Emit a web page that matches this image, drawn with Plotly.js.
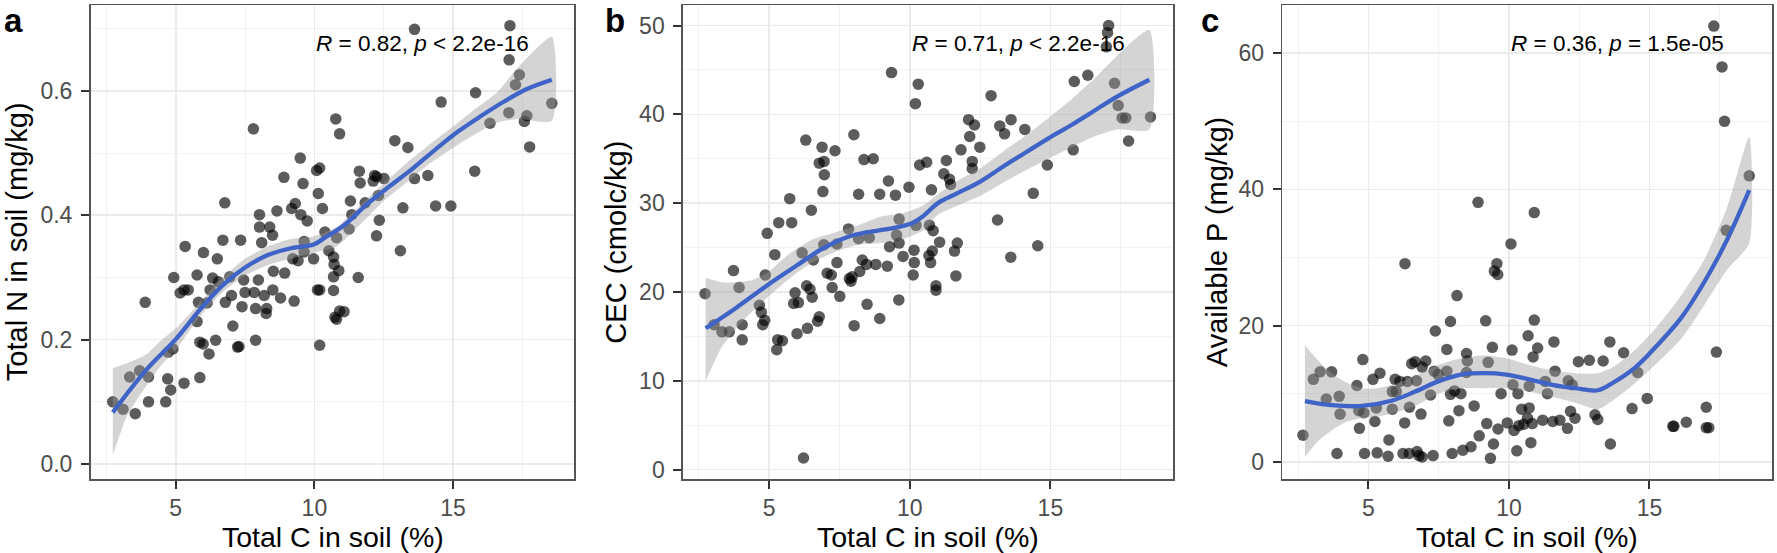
<!DOCTYPE html>
<html>
<head>
<meta charset="utf-8">
<script src="https://cdn.plot.ly/plotly-3.0.1.min.js"></script>
<style>
html,body{margin:0;padding:0;background:#fff;}
#chart{width:1777px;height:553px;}
</style>
</head>
<body>
<div id="chart"></div>
<script>
// ---------- Panel a: Total N vs Total C ----------
const carbonA = [2.73,3.10,3.34,3.54,3.70,3.90,4.02,4.02,4.64,4.71,4.73,4.82,4.90,4.93,5.30,5.34,5.16,5.30,5.45,5.77,5.82,5.77,5.87,5.87,5.99,6.00,6.20,6.13,6.33,6.24,6.44,6.50,6.54,6.70,6.77,6.79,6.95,7.01,7.06,7.23,7.28,7.34,7.39,7.45,7.50,7.80,7.83,7.88,7.88,7.98,8.02,8.02,8.10,8.19,8.28,8.26,8.39,8.49,8.52,8.50,8.65,8.78,8.90,8.93,9.18,9.27,9.31,9.22,9.49,9.51,9.41,9.59,9.63,9.63,9.74,9.97,10.08,10.19,10.14,10.29,10.11,10.19,10.19,10.38,10.52,10.69,10.71,10.80,10.69,10.88,10.69,10.77,10.91,10.74,10.80,10.91,11.07,11.25,11.30,11.35,11.58,11.62,11.65,11.83,12.12,12.17,12.24,12.31,12.24,12.34,12.51,12.90,13.10,13.19,13.37,13.61,13.61,14.09,14.37,14.57,14.92,15.81,15.78,16.33,17.01,17.05,17.02,17.25,17.39,17.57,17.66,17.76,18.56];
const nitrogen = [0.100,0.088,0.140,0.081,0.150,0.260,0.140,0.100,0.100,0.137,0.180,0.119,0.185,0.300,0.130,0.350,0.275,0.280,0.280,0.304,0.260,0.229,0.196,0.139,0.193,0.340,0.177,0.259,0.299,0.280,0.199,0.330,0.293,0.360,0.420,0.260,0.301,0.271,0.222,0.188,0.189,0.360,0.253,0.296,0.276,0.539,0.276,0.250,0.199,0.296,0.401,0.381,0.356,0.271,0.250,0.242,0.381,0.368,0.310,0.280,0.407,0.267,0.461,0.307,0.411,0.262,0.419,0.330,0.492,0.401,0.327,0.451,0.358,0.341,0.391,0.330,0.472,0.476,0.435,0.411,0.280,0.280,0.191,0.373,0.343,0.333,0.321,0.364,0.301,0.311,0.279,0.555,0.531,0.236,0.233,0.246,0.245,0.378,0.423,0.401,0.300,0.471,0.452,0.420,0.455,0.464,0.462,0.432,0.367,0.392,0.459,0.520,0.343,0.412,0.509,0.699,0.459,0.464,0.415,0.582,0.415,0.597,0.471,0.548,0.565,0.705,0.650,0.610,0.626,0.551,0.560,0.510,0.580];
const smoothAx = [2.73,3.93,5.03,5.85,6.68,7.50,8.32,9.15,9.97,10.38,11.07,11.90,12.72,13.54,14.37,15.19,16.02,16.84,17.66,18.56];
const smoothAy = [0.083,0.151,0.202,0.247,0.287,0.316,0.336,0.347,0.353,0.364,0.384,0.418,0.447,0.475,0.506,0.535,0.560,0.583,0.603,0.618];
const bandAx = [2.73,3.24,3.93,4.48,5.03,5.85,6.68,7.50,8.32,9.15,9.97,10.80,11.62,12.45,13.27,14.09,14.92,15.74,16.57,17.39,18.56];
const bandAhi = [0.154,0.162,0.176,0.199,0.219,0.259,0.299,0.330,0.350,0.362,0.366,0.381,0.415,0.449,0.482,0.512,0.540,0.569,0.597,0.640,0.687];
const bandAlo = [0.014,0.077,0.125,0.159,0.185,0.236,0.276,0.303,0.320,0.330,0.340,0.350,0.384,0.421,0.451,0.481,0.506,0.529,0.549,0.555,0.552];

// ---------- Panel b: CEC vs Total C ----------
const carbonB = [2.72,3.04,3.32,3.58,3.73,3.93,4.04,4.04,4.65,4.72,4.77,4.84,4.86,4.93,5.20,5.30,5.27,5.47,5.34,5.73,5.80,5.87,5.92,5.99,6.04,6.17,6.22,6.30,6.33,6.36,6.45,6.50,6.53,6.57,6.72,6.78,6.78,6.88,6.95,6.91,6.96,6.94,7.06,7.21,7.24,7.34,7.41,7.41,7.51,7.82,7.85,7.91,7.95,8.01,8.02,8.18,8.18,8.22,8.31,8.37,8.48,8.46,8.56,8.70,8.79,8.93,8.93,9.20,9.24,9.28,9.35,9.49,9.53,9.61,9.62,9.62,9.76,9.97,10.12,10.15,10.16,10.20,10.22,10.30,10.35,10.60,10.68,10.70,10.74,10.77,10.80,10.83,10.93,10.93,11.06,11.21,11.30,11.41,11.45,11.59,11.64,11.69,11.82,12.09,12.13,12.22,12.22,12.30,12.49,12.89,13.12,13.20,13.37,13.60,13.59,14.09,14.39,14.55,14.89,15.81,15.85,16.33,16.99,17.03,17.07,17.28,17.41,17.55,17.68,17.78,18.56];
const cec = [19.8,16.3,15.5,15.5,22.4,20.5,16.3,14.6,18.5,17.7,16.3,16.8,21.9,26.6,24.2,14.6,13.5,14.5,27.8,30.5,27.8,18.7,19.9,15.3,18.8,24.4,1.3,37.1,20.7,15.9,20.3,29.2,19.4,23.6,16.7,17.2,34.5,36.3,34.7,31.3,33.2,25.3,22.1,21.9,20.5,35.9,25.4,23.3,19.5,27.1,21.5,21.2,21.7,37.7,16.2,31.0,26.0,22.3,23.6,34.9,18.6,23.1,26.1,35.0,23.1,31.0,17.0,22.9,32.5,25.1,44.7,30.9,26.4,19.1,28.2,25.5,24.0,31.8,21.9,24.7,23.3,41.2,27.5,43.4,34.3,34.6,24.1,27.5,23.3,31.5,24.6,26.9,20.7,20.2,25.6,33.3,34.8,32.7,32.1,24.6,21.8,25.5,36.0,39.4,37.5,33.9,34.7,38.8,36.3,42.1,28.1,38.7,37.8,39.4,23.9,38.3,31.1,25.2,34.3,36.0,43.7,44.4,47.6,49.2,50.0,43.5,41.0,39.6,39.6,37.0,39.7];
const smoothBx = [2.74,3.82,4.91,5.99,6.80,7.34,7.89,8.43,9.24,10.05,10.46,11.00,11.68,12.49,13.31,14.12,14.93,15.75,16.56,17.37,18.52];
const smoothBy = [15.9,18.2,20.7,23.0,24.7,25.6,26.3,26.7,27.1,27.7,28.5,30.0,31.1,32.4,34.1,35.7,37.3,38.8,40.4,42.0,43.9];
const bandBx = [2.74,3.30,3.82,4.37,4.91,5.72,6.53,7.34,8.16,8.97,9.78,10.46,11.00,11.68,12.49,13.31,14.12,14.93,15.75,16.56,17.37,18.52];
const bandBhi = [21.6,21.1,21.1,21.3,22.1,24.3,25.9,26.7,27.5,28.5,28.9,29.7,31.0,32.5,33.9,35.8,37.6,39.6,41.7,44.0,46.6,49.5];
const bandBlo = [10.0,13.7,15.9,17.7,19.3,21.5,23.3,24.5,25.3,25.5,26.0,26.9,28.7,29.7,30.8,32.3,33.7,35.0,36.3,37.5,38.3,38.3];

// ---------- Panel c: Available P vs Total C ----------
const carbonC = [2.67,3.04,3.28,3.50,3.69,3.88,3.96,3.99,4.59,4.66,4.68,4.80,4.84,4.86,5.16,5.23,5.28,5.31,5.41,5.70,5.73,5.85,5.85,5.95,5.99,6.12,6.23,6.29,6.30,6.39,6.45,6.46,6.54,6.66,6.71,6.73,6.80,6.87,6.91,6.91,7.04,7.21,7.30,7.34,7.38,7.48,7.79,7.79,7.86,7.92,7.92,7.98,8.06,8.15,8.22,8.29,8.36,8.49,8.52,8.49,8.65,8.76,8.90,8.94,9.17,9.21,9.26,9.34,9.41,9.45,9.48,9.57,9.60,9.61,9.72,9.94,10.07,10.11,10.14,10.18,10.28,10.32,10.35,10.45,10.52,10.66,10.68,10.72,10.72,10.78,10.83,10.86,10.90,10.90,11.02,11.20,11.29,11.37,11.56,11.60,11.64,11.81,12.08,12.11,12.19,12.25,12.35,12.47,12.86,13.06,13.16,13.35,13.59,13.61,14.08,14.38,14.58,14.92,15.83,15.87,16.31,17.02,17.02,17.11,17.29,17.38,17.58,17.67,17.73,18.55];
const phosphorus = [3.9,12.1,13.2,9.2,13.2,1.2,9.6,7.0,11.2,7.5,4.9,15.0,7.2,1.2,12.1,5.9,7.9,1.3,13.0,0.8,3.2,10.3,7.7,12.1,10.3,11.8,1.2,5.7,29.1,11.8,1.2,8.0,14.4,14.7,11.9,1.5,0.9,7.0,13.9,0.7,14.8,9.8,0.9,13.3,19.2,12.8,16.5,13.3,6.0,20.6,9.9,1.2,10.4,24.4,7.5,10.0,1.7,15.9,14.8,13.1,2.2,8.2,38.1,3.8,20.7,5.6,14.6,0.5,16.8,2.6,28.0,29.1,27.5,4.8,10.0,5.7,32.0,16.4,11.3,4.6,1.6,10.0,5.3,7.7,5.5,6.4,18.5,11.1,7.9,2.8,5.6,15.4,20.8,36.6,16.7,6.1,11.8,10.0,5.9,17.6,13.3,6.1,4.9,11.9,7.4,11.3,6.4,14.7,14.9,6.9,6.2,14.8,17.6,2.6,16.0,7.8,13.1,9.3,5.2,5.2,5.8,8.0,5.0,5.0,64.0,16.1,58.0,50.0,34.0,42.0];
const smoothCx = [2.74,3.69,4.77,5.85,6.66,7.48,8.29,9.10,9.91,10.72,11.54,12.35,13.16,13.70,14.51,15.32,16.14,16.95,17.76,18.55];
const smoothCy = [8.9,8.3,8.2,9.0,10.3,11.8,12.8,13.0,12.8,12.1,11.3,10.8,10.5,11.6,13.9,17.3,21.2,26.4,32.6,39.9];
const bandCx = [2.74,3.20,3.69,4.23,4.77,5.31,5.85,6.66,7.48,8.29,9.10,9.91,10.72,11.54,12.35,13.16,13.70,14.51,15.32,16.14,16.95,17.76,18.55];
const bandChi = [17.1,14.9,13.0,11.6,10.8,10.8,11.3,12.6,14.2,15.2,15.6,15.2,14.2,13.4,13.0,13.0,13.9,16.5,20.1,24.5,29.7,37.3,47.7];
const bandClo = [0.7,3.0,4.6,5.9,6.4,6.6,7.1,8.2,10.0,10.8,10.8,10.8,10.3,9.5,8.7,7.7,9.0,11.6,14.7,18.1,23.0,28.2,32.1];

// ---------- Labels / ticks ----------
const panelLetters = ['a','b','c'];
const yTitles = ['Total N in soil (mg/kg)','CEC (cmolc/kg)','Available P (mg/kg)'];
const xTitle = 'Total C in soil (%)';
const corrLabels = ['<i>R</i> = 0.82, <i>p</i> &lt; 2.2e-16','<i>R</i> = 0.71, <i>p</i> &lt; 2.2e-16','<i>R</i> = 0.36, <i>p</i> = 1.5e-05'];
const xTicks = [5,10,15];
const yTicksA = [0.0,0.2,0.4,0.6];
const yTickTextA = ['0.0','0.2','0.4','0.6'];
const yTicksB = [0,10,20,30,40,50];
const yTicksC = [0,20,40,60];

// ---------- Layout geometry (pixels) ----------
const W = 1777, H = 553;
const panelsPx = [[90.7,574.3],[683,1173.3],[1282.3,1772.3]];
const plotTop = 5.3, plotBottom = 479;
const yRanges = [[-0.0241,0.7377],[-1.07,52.28],[-2.54,67.05]];
const xRange = [1.935,19.37];
const yTitleX = [17,616.5,1217];
const letterX = [2,603,1199];

const FONT = 'Liberation Sans, Arial, Helvetica, sans-serif';
const pointColor = 'rgba(0,0,0,0.64)';
const bandColor = 'rgba(153,153,153,0.42)';
const lineColor = '#3F63C6';

const xs = [carbonA, carbonB, carbonC];
const ys = [nitrogen, cec, phosphorus];
const smx = [smoothAx, smoothBx, smoothCx];
const smy = [smoothAy, smoothBy, smoothCy];
const bx = [bandAx, bandBx, bandCx];
const bhi = [bandAhi, bandBhi, bandChi];
const blo = [bandAlo, bandBlo, bandClo];

const traces = [];
const layout = {
  width: W, height: H,
  margin: {l:0, r:0, t:0, b:0, pad:0},
  paper_bgcolor: '#ffffff',
  plot_bgcolor: '#ffffff',
  showlegend: false,
  font: {family: FONT, size: 22, color: '#4D4D4D'},
  annotations: []
};

for (let i = 0; i < 3; i++) {
  const sfx = i === 0 ? '' : String(i + 1);
  const xa = 'x' + sfx, ya = 'y' + sfx;
  // points
  traces.push({
    type: 'scatter', mode: 'markers', x: xs[i], y: ys[i], xaxis: xa, yaxis: ya,
    marker: {size: 11.5, color: pointColor, line: {width: 0}}, hoverinfo: 'skip'
  });
  // confidence band
  const polyX = bx[i].concat(bx[i].slice().reverse());
  const polyY = bhi[i].concat(blo[i].slice().reverse());
  traces.push({
    type: 'scatter', mode: 'lines', x: polyX, y: polyY, xaxis: xa, yaxis: ya,
    fill: 'toself', fillcolor: bandColor, line: {width: 0, color: 'rgba(0,0,0,0)', shape: 'spline', smoothing: 0.6},
    hoverinfo: 'skip'
  });
  // smooth line
  traces.push({
    type: 'scatter', mode: 'lines', x: smx[i], y: smy[i], xaxis: xa, yaxis: ya,
    line: {color: lineColor, width: 4.3, shape: 'spline', smoothing: 1}, hoverinfo: 'skip'
  });

  const dom = [panelsPx[i][0] / W, panelsPx[i][1] / W];
  const axisCommon = {
    showline: true, mirror: true, linecolor: '#555555', linewidth: 1.7,
    ticks: 'outside', ticklen: 8, tickwidth: 2, tickcolor: '#333333',
    showgrid: true, gridcolor: '#EBEBEB', gridwidth: 1.6,
    zeroline: false, tickfont: {family: FONT, size: 23, color: '#4D4D4D'},
    ticklabelstandoff: 4, fixedrange: true
  };
  layout['xaxis' + sfx] = Object.assign({}, axisCommon, {
    domain: dom, range: xRange, anchor: ya,
    tickmode: 'array', tickvals: xTicks, ticktext: xTicks.map(String),
    ticklabelstandoff: 0,
    minor: {tickmode: 'array', tickvals: [2.5,7.5,12.5,17.5], showgrid: true, gridcolor: '#F2F2F2', gridwidth: 1, ticks: ''}
  });
  let yt, ytt, ymin;
  if (i === 0) { yt = yTicksA; ytt = yTickTextA; ymin = [0.1,0.3,0.5,0.7]; }
  else if (i === 1) { yt = yTicksB; ytt = yTicksB.map(String); ymin = [5,15,25,35,45]; }
  else { yt = yTicksC; ytt = yTicksC.map(String); ymin = [10,30,50]; }
  layout['yaxis' + sfx] = Object.assign({}, axisCommon, {
    domain: [1 - plotBottom / H, 1 - plotTop / H], range: yRanges[i], anchor: xa,
    tickmode: 'array', tickvals: yt, ticktext: ytt,
    minor: {tickmode: 'array', tickvals: ymin, showgrid: true, gridcolor: '#F2F2F2', gridwidth: 1, ticks: ''}
  });

  // correlation label
  layout.annotations.push({
    xref: xa, yref: 'paper', x: 10, y: 1 - 43.5 / H, xanchor: 'left', yanchor: 'middle',
    text: corrLabels[i], showarrow: false, font: {family: FONT, size: 22.5, color: '#000000'}
  });
  // x title
  layout.annotations.push({
    xref: 'paper', yref: 'paper', x: (dom[0] + dom[1]) / 2, y: 1 - 537 / H,
    xanchor: 'center', yanchor: 'middle', text: xTitle, showarrow: false, borderpad: 0,
    font: {family: FONT, size: 28.5, color: '#000000'}
  });
  // y title
  layout.annotations.push({
    xref: 'paper', yref: 'paper', x: yTitleX[i] / W, y: 1 - ((plotTop + plotBottom) / 2) / H,
    xanchor: 'center', yanchor: 'middle', textangle: -90, text: yTitles[i], showarrow: false,
    font: {family: FONT, size: 29, color: '#000000'}
  });
  // panel letter
  layout.annotations.push({
    xref: 'paper', yref: 'paper', x: letterX[i] / W, y: 1 - 21 / H,
    xanchor: 'left', yanchor: 'middle', text: '<b>' + panelLetters[i] + '</b>', showarrow: false,
    font: {family: FONT, size: 33, color: '#000000'}
  });
}

Plotly.newPlot('chart', traces, layout, {staticPlot: true, displayModeBar: false});
</script>
</body>
</html>
